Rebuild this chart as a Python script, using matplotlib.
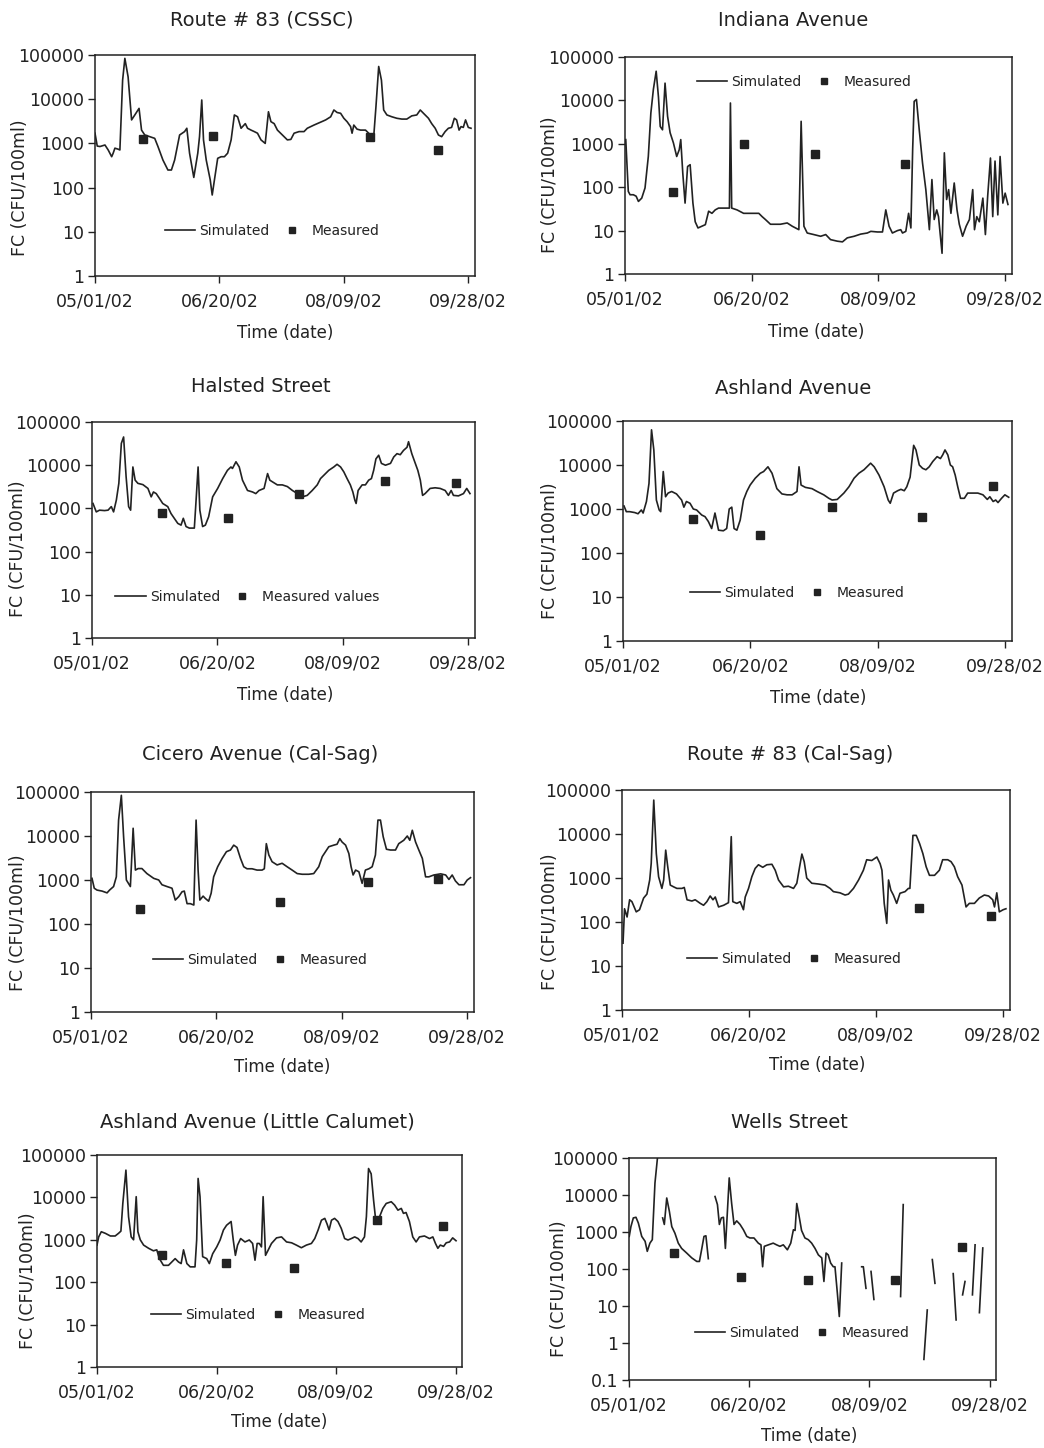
import numpy as np
import matplotlib.pyplot as plt

nan = float('nan')

# x axis: days after 05/01/02
tick_days = [0, 50, 100, 150]
tick_labels = ['05/01/02', '06/20/02', '08/09/02', '09/28/02']

# ---------------- Route # 83 (CSSC) ----------------
cssc_day = [0, 0.9, 2, 4, 5.3, 6.7, 7.3, 8, 9.3, 10,
            11.1, 12, 13.3, 14.7, 16, 17.7, 18.7, 20, 22, 24,
            25.3, 27.3, 29.3, 30.7, 32, 34, 36, 36.9, 38, 39.7,
            41.3, 42, 42.9, 43.6, 44.7, 46.3, 47.1, 48, 49.3, 50.7,
            52, 53.3, 54.7, 56, 57.3, 58.7, 60.4, 61.3, 62.7, 64,
            65.3, 66.7, 68.4, 69.7, 70.7, 72, 73.3, 75.3, 77.3, 78.7,
            80, 82, 84, 85.3, 86.7, 88, 89.3, 91.1, 92.7, 94.7,
            96, 97.3, 98.7, 100, 101.3, 102.7, 103.3, 104, 105.3, 106.7,
            108.7, 110.7, 112, 112.9, 114, 115.1, 116, 117.3, 119.3, 121.3,
            123.3, 125.3, 127.3, 129.3, 130.7, 132, 134, 135.3, 136.7, 138,
            139.3, 140.7, 142, 143.3, 144.4, 145.3, 146.3, 147.1, 148, 148.9,
            150, 151.1]
cssc_fc = [1700, 870, 850, 920, 710, 500, 600, 780, 740, 710,
           27000, 84000, 32000, 3400, 4400, 6200, 2000, 1550, 1420, 1300,
           850, 420, 250, 250, 420, 1550, 1850, 2200, 600, 170,
           600, 1420, 9600, 1200, 420, 150, 68, 150, 460, 500,
           500, 600, 1200, 4400, 4000, 2200, 2800, 2200, 2000, 1850,
           1700, 1200, 1000, 5200, 3100, 2800, 2000, 1550, 1200, 1230,
           1700, 1850, 1850, 2200, 2400, 2600, 2800, 3100, 3400, 4000,
           5700, 5000, 4800, 3700, 3100, 2400, 1700, 2600, 2100, 2000,
           2000, 1550, 1420, 6800, 55000, 27000, 5700, 4400, 4000, 3700,
           3550, 3550, 4200, 4400, 5700, 4800, 3700, 2800, 2200, 1550,
           1420, 1850, 2200, 2300, 3700, 3400, 2000, 2400, 2300, 3400,
           2300, 2200]
cssc_meas_day = [19.1, 47.6, 110.4, 138]
cssc_meas_fc = [1250, 1450, 1380, 700]

# ---------------- Indiana Avenue ----------------
indiana_day = [0.3, 1.3, 2.0, 3.3, 4.4, 5.3, 6.6, 7.9, 9.2, 10.2,
               11.2, 12.3, 13.2, 13.9, 14.8, 15.8, 16.8, 17.8, 19.1, 20.4,
               21.4, 22.0, 22.8, 23.7, 24.7, 25.7, 26.8, 27.7, 28.8, 30.3,
               31.7, 33.0, 34.3, 35.6, 36.9, 40.2, 41.2, 41.6, 42.1, 44.2,
               46.8, 49.5, 52.8, 54.1, 55.4, 57.4, 61.3, 64.0, 66.0, 68.6,
               69.5, 70.6, 71.9, 74.5, 77.2, 79.2, 81.1, 83.8, 85.8, 87.7,
               90.4, 93.0, 95.6, 97.0, 99.6, 101.6, 102.9, 104.2, 105.5, 107.5,
               108.8, 109.5, 110.8, 111.9, 112.8, 113.5, 114.1, 115.0, 116.1, 117.4,
               118.7, 120.1, 121.1, 122.0, 123.0, 123.7, 125.1, 126.0, 126.9, 127.7,
               128.6, 129.9, 131.0, 131.9, 133.2, 134.6, 135.9, 137.2, 137.9, 138.8,
               139.8, 141.2, 142.2, 143.1, 144.2, 145.1, 146.0, 147.1, 148.0, 149.1,
               150.0, 151.1]
indiana_fc = [1250, 80, 67, 67, 62, 47, 56, 96, 510, 5100,
              18000, 47000, 12000, 2500, 2100, 25000, 4300, 1800, 1050, 510,
              730, 1250, 210, 43, 300, 330, 43, 16, 11.5, 12.6,
              13.7, 28, 25, 30, 33, 33, 33, 8700, 33, 30,
              25, 25, 25, 21, 18, 14, 14, 15, 12.6, 10.5,
              3300, 12.6, 8.8, 8.1, 7.4, 8.1, 6.2, 5.7, 5.5, 6.8,
              7.4, 8.3, 8.8, 9.6, 9.3, 9.3, 30, 12.6, 8.8, 10,
              10.5, 8.8, 9.6, 25, 11.5, 730, 9500, 10500, 2100, 360,
              88, 10.5, 150, 18, 30, 21, 3, 620, 52, 88,
              25, 125, 30, 14, 7.4, 12.6, 18, 88, 10.5, 21,
              16, 56, 8.1, 62, 470, 21, 400, 23, 510, 43,
              73, 40]
indiana_meas_day = [18.9, 47.1, 74.8, 110.6]
indiana_meas_fc = [76, 1000, 580, 350]

# ---------------- Halsted Street ----------------
halsted_day = [0.4, 1.7, 3, 5, 6.4, 7.7, 8.6, 9.7, 10.7, 11.7,
               12.6, 13.6, 14.6, 15.4, 16.3, 17.2, 18.3, 20.3, 22.3, 23.6,
               24.5, 25.6, 26.9, 28.2, 30.2, 31.5, 32.8, 34.2, 35.5, 36.4,
               37.5, 38.8, 40.8, 41.5, 42.3, 43, 44.1, 45.2, 46.5, 48.1,
               50.1, 52.1, 54, 55.4, 56, 57.4, 58.7, 60, 62, 64,
               65.3, 66.6, 68.6, 70, 70.9, 72, 73.9, 75.9, 77.9, 79.9,
               81.9, 83.2, 84.5, 85.8, 87.8, 89.8, 91.1, 92.5, 94.4, 96.4,
               97.7, 99.1, 100.4, 101.7, 103, 104, 104.8, 105.3, 106.1, 107.7,
               109, 110.3, 111.4, 112.3, 113.2, 114.3, 115.4, 117, 119, 120.3,
               121.6, 122.9, 124.2, 125.6, 126.2, 127.5, 128.9, 129.9, 130.9, 131.8,
               132.8, 134.8, 136.8, 138.8, 140.8, 142.1, 143.2, 144.1, 146.1, 148.1,
               149.4, 150.7]
halsted_fc = [1300, 830, 910, 890, 910, 1100, 830, 1550, 3800, 32000,
              45000, 5400, 1100, 910, 9100, 4500, 3800, 3550, 2900, 1850,
              2400, 2200, 1700, 1300, 1100, 760, 590, 450, 410, 590,
              380, 350, 350, 1550, 9100, 910, 380, 410, 640, 1850,
              2900, 4900, 7600, 9100, 8400, 12000, 9100, 4500, 2600, 2400,
              2200, 2600, 2900, 6400, 4500, 4100, 3500, 3500, 3200, 2600,
              2200, 2000, 1900, 2000, 2600, 3500, 4900, 5900, 7600, 9100,
              10500, 9100, 7000, 4900, 3500, 2400, 1550, 1300, 2600, 3500,
              3500, 4500, 4900, 7600, 14000, 17000, 11000, 10000, 11000, 15500,
              18500, 17500, 22000, 26000, 35000, 18500, 11000, 7600, 4500, 2000,
              2200, 2900, 3000, 2900, 2600, 2000, 2600, 2000, 1950, 2200,
              2900, 2200]
halsted_meas_day = [27.8, 54.3, 82.5, 117, 145]
halsted_meas_fc = [800, 590, 2100, 4300, 3900]

# ---------------- Ashland Avenue ----------------
ashland_day = [0.4, 1.3, 2.6, 4.6, 5.9, 7.2, 7.9, 9.2, 10.2, 11.2,
               12.1, 13.1, 14.2, 14.8, 15.8, 16.7, 17.7, 19.1, 21, 23,
               23.9, 24.9, 26.3, 27.6, 28.9, 30.9, 32.2, 33.5, 34.8, 36.1,
               37.5, 39.4, 40.7, 41.7, 42.7, 43.6, 44.7, 46, 47.3, 48.6,
               49.9, 51.9, 53.9, 55.2, 56.9, 58.5, 60.4, 62.4, 64.4, 66.4,
               68.3, 69.1, 69.9, 71.6, 74.2, 76.2, 78.8, 80.8, 82.1, 84.1,
               86.7, 88.7, 90.7, 92.6, 94.6, 97.2, 98.6, 100.5, 102.5, 104.1,
               104.9, 106.2, 107.8, 109.1, 110.4, 111.4, 112.7, 114.1, 115, 116.3,
               117.6, 118.9, 120.2, 121.6, 123.3, 124.6, 125.5, 126.4, 127.5, 128.5,
               129.4, 130.4, 131.4, 132.5, 134, 135.3, 137.3, 139.3, 141.3, 143,
               144, 145.3, 146.3, 147.2, 148.6, 149.9, 151.4]
ashland_fc = [1170, 870, 870, 830, 780, 950, 810, 1480, 3800, 63000,
              22000, 1600, 950, 870, 7100, 1900, 2300, 2500, 2200, 1600,
              1100, 1480, 1350, 1000, 950, 730, 670, 520, 360, 810,
              330, 320, 360, 1000, 1100, 360, 330, 560, 1600, 2500,
              3500, 5000, 6500, 7100, 9100, 6500, 2900, 2200, 2100, 2100,
              2500, 9100, 3500, 3100, 2900, 2500, 2100, 1750, 1600, 1650,
              2300, 3200, 5000, 6500, 7800, 11000, 9100, 5900, 3200, 1600,
              1350, 2300, 2600, 2800, 2600, 3200, 5300, 28000, 22000, 10000,
              8400, 7800, 9100, 12000, 15500, 14000, 17000, 22000, 17000, 10000,
              9100, 5900, 3200, 1750, 1750, 2300, 2300, 2300, 2100, 1650,
              1900, 1480, 1600, 1400, 1750, 2100, 1850]
ashland_meas_day = [27.3, 53.9, 82.1, 117.2, 145.2]
ashland_meas_fc = [580, 260, 1120, 650, 3300]

# ---------------- Cicero Avenue (Cal-Sag) ----------------
cicero_day = [0.4, 1.3, 2.4, 4.4, 6.4, 7.4, 9, 10.1, 11, 12.1,
              13, 14.1, 15.7, 16.8, 17.7, 18.8, 20.3, 22.3, 25, 27,
              28.3, 30.3, 32.3, 33.6, 35, 36.3, 37.2, 38.3, 39.6, 41,
              41.9, 42.7, 43.4, 44.7, 45.6, 46.9, 47.9, 48.9, 50.5, 52.3,
              54, 55.6, 56.9, 58.2, 59.6, 60.9, 62.2, 64.2, 66.2, 68.2,
              69.1, 69.9, 70.9, 72.2, 74.2, 76.2, 78.2, 80.2, 82.2, 84.2,
              86.8, 88.8, 90.8, 92.2, 93.5, 94.8, 96.8, 98.1, 99.2, 100.1,
              101.5, 102.8, 103.7, 104.5, 105.5, 106.8, 108.1, 109.4, 110.8, 112.1,
              113.4, 114.4, 115.4, 116.5, 117.8, 119.4, 121.4, 122.7, 124.7, 126.1,
              127.1, 128.1, 129.4, 130.7, 132.1, 133.4, 134.7, 136.7, 139.4, 141.4,
              142.7, 144, 145.3, 146.7, 148.7, 150, 151.3]
cicero_fc = [1090, 650, 590, 560, 510, 590, 710, 1180, 23000, 84000,
             9600, 1000, 710, 15000, 1680, 1820, 1820, 1400, 1090, 1000,
             780, 710, 650, 350, 420, 540, 560, 290, 290, 270,
             23000, 1680, 350, 430, 380, 330, 500, 1180, 2000, 3100,
             4400, 4800, 6200, 5500, 3100, 2000, 1800, 1800, 1680, 1680,
             1800, 6700, 3700, 2600, 2200, 2400, 2000, 1680, 1400, 1350,
             1350, 1400, 2000, 3400, 4400, 5700, 6200, 6500, 8700, 7300,
             6200, 4000, 2000, 1300, 1680, 1540, 840, 1680, 1800, 2000,
             3700, 23000, 23000, 9600, 5000, 4800, 4800, 6700, 8000, 10000,
             8000, 13500, 7300, 4800, 3100, 1180, 1180, 1300, 1380, 1300,
             1030, 1300, 950, 780, 780, 1000, 1130]
cicero_meas_day = [19.7, 75.5, 110.5, 138.4]
cicero_meas_fc = [215, 320, 890, 1030]

# ---------------- Route # 83 (Cal-Sag) ----------------
calsag_day = [0.4, 1, 2, 3, 3.9, 5.6, 6.9, 8.5, 9.8, 10.9,
              11.5, 12.5, 13.5, 14.4, 15.7, 16.4, 17.2, 18, 19, 20.3,
              21.6, 23.6, 24.5, 25.6, 27.5, 28.8, 30.8, 32.1, 33.4, 34.7,
              35.8, 36.7, 38, 40, 41.9, 43, 43.6, 45.2, 46.5, 47.8,
              48.5, 49.8, 51.1, 52.4, 53.7, 55.4, 57, 59, 60.3, 61.6,
              63.6, 65.5, 67.5, 68.8, 69.9, 70.8, 71.7, 72.7, 74.7, 77.3,
              79.9, 81.9, 83.2, 85.8, 87.8, 89.1, 91.1, 93.1, 95, 96.3,
              98.3, 100.3, 101.6, 102.3, 103.2, 104.2, 104.9, 105.8, 106.8, 108.1,
              109.4, 111.4, 112.7, 113.3, 114.5, 115.8, 117.1, 118.4, 119.7, 121,
              123, 124.9, 126.2, 128.2, 129.5, 130.8, 132.1, 133.8, 135.4, 136.7,
              138.7, 140.6, 142.6, 144.3, 145.9, 146.6, 147.5, 148.5, 150, 151.1]
calsag_fc = [33, 200, 130, 320, 290, 170, 190, 350, 430, 900,
             2150, 59000, 3600, 1070, 580, 900, 4300, 1800, 690, 630,
             580, 580, 610, 320, 300, 320, 265, 240, 290, 390,
             320, 370, 220, 240, 275, 8700, 290, 265, 290, 190,
             370, 580, 1070, 1650, 2000, 1750, 2000, 2050, 1500, 900,
             630, 650, 580, 760, 1800, 3500, 2350, 1000, 760, 730,
             690, 580, 490, 460, 410, 430, 580, 900, 1500, 2600,
             2500, 3000, 2100, 1500, 265, 93, 900, 530, 410, 265,
             450, 490, 580, 580, 9300, 9300, 6100, 3600, 1800, 1150,
             1150, 1500, 2600, 2600, 2350, 1800, 1070, 690, 220, 265,
             265, 350, 410, 390, 320, 220, 460, 170, 190, 200]
calsag_meas_day = [117, 145.1]
calsag_meas_fc = [210, 140]

# ---------------- Ashland Avenue (Little Calumet) ----------------
littlecal_day = [0, 0.7, 1.8, 3.5, 5.6, 7.6, 9, 10, 10.8, 12.1,
                 13.2, 14.3, 15.3, 16.4, 17.1, 18.1, 19.5, 21.6, 23.6, 25,
                 26.1, 27.8, 29.9, 31.3, 32.7, 34.1, 35.2, 36.2, 37.6, 39,
                 41, 41.7, 42.3, 43.1, 44.2, 45.9, 47, 48.4, 50.1, 51.5,
                 52.9, 54.2, 56.1, 57, 57.9, 58.8, 60.1, 61.9, 63.7, 65.1,
                 66.1, 67, 67.9, 68.8, 69.5, 70.5, 71.6, 73, 75.1, 77.2,
                 79.3, 81.4, 83.4, 85.5, 87.6, 89.7, 91.1, 92.5, 93.9, 95.3,
                 96.2, 97.1, 98.1, 99.4, 100.8, 102.2, 103.6, 105, 106.4, 107.8,
                 109.2, 110.5, 111.9, 112.7, 113.6, 114.7, 115.7, 116.6, 118.2, 119.6,
                 121, 123.1, 124.5, 125.9, 127.3, 128.2, 129.3, 130.7, 132.1, 133.5,
                 134.9, 137, 139.1, 140.5, 141.6, 142.6, 143.6, 145, 146.1, 147.5,
                 148.8, 150.2]
littlecal_fc = [750, 1170, 1550, 1420, 1230, 1230, 1420, 1600, 7200, 44000,
                3500, 1170, 1000, 10400, 1550, 1000, 750, 630, 550, 580,
                360, 250, 250, 300, 360, 300, 275, 580, 275, 230,
                230, 990, 28000, 10400, 400, 360, 275, 470, 680, 990,
                1700, 2200, 2700, 990, 430, 750, 1070, 890, 990, 820,
                330, 820, 820, 680, 10400, 430, 570, 820, 1110, 1170,
                890, 850, 750, 650, 750, 820, 1070, 1700, 2900, 3200,
                2400, 1700, 2900, 3200, 2700, 1850, 1070, 990, 1070, 1170,
                1070, 890, 1170, 3500, 48000, 36000, 8700, 2900, 3500, 5500,
                7200, 7900, 6600, 5000, 5500, 4200, 4400, 2700, 1170, 890,
                1170, 1230, 1070, 1170, 820, 630, 750, 700, 850, 890,
                1110, 950]
littlecal_meas_day = [27.4, 54, 82.3, 117.2, 144.6]
littlecal_meas_fc = [440, 290, 220, 2900, 2150]

# ---------------- Wells Street (gaps in the simulation) ----------------
wells_day = [0.1, 0.8, 1.8, 2.9, 3.9, 5.3, 6.7, 7.6, 8.7, 9.7, 10.8, 12.3, nan,
             14, 14.7, 15.7, 16.8, 17.8, 19.1, 20.5, 21.9, 24, 26.1, 28.2, 29.3,
             30.2, 31.2, 32, 33, nan,
             35.8, 36.8, 37.6, 38.4, 39.3, 40.1, 40.9, 41.7, 42.7, 43.7, 44.8,
             46.2, 47.6, 49, 50.3, 52, 53.8, 54.9, 55.6, 56.3, 58, 60, 61.4,
             62.8, 64.2, 65.9, 67.3, 68.4, 69.1, 69.8, 70.9, 71.8, 73.2, 74.6,
             76, 77.4, 78.8, 80.2, 81.1, 82, 82.9, 83.9, 85, 85.7, 86.7, 87.5,
             88.5, nan,
             96.8, 97.5, 98.6, nan, 100.7, 101.9, nan, 113, 114.1, nan,
             122.7, 124.1, nan, 126.2, 127.3, nan, 134.9, 136.1, nan,
             138.8, 139.8, nan, 142.9, 144, nan, 145.8, 147.2]
wells_fc = [760, 1400, 2400, 2500, 1740, 760, 560, 300, 500, 620, 21000, 200000, nan,
            2400, 1600, 8300, 3600, 1400, 930, 500, 360, 270, 200, 160, 160,
            330, 760, 790, 190, nan,
            9100, 5500, 1600, 2400, 2500, 360, 3200, 29000, 6000, 1600, 2000,
            1600, 1150, 760, 690, 690, 500, 450, 115, 410, 450, 500, 450,
            410, 450, 330, 500, 1150, 1100, 5900, 2400, 1100, 690, 620,
            500, 360, 240, 200, 46, 270, 240, 145, 115, 115, 22, 5.2,
            145, nan,
            115, 115, 30, nan, 86, 15, nan, 18, 5500, nan,
            0.36, 7.8, nan, 180, 41, nan, 75, 4.2, nan,
            20, 46, nan, 20, 450, nan, 6.6, 370]
wells_meas_day = [18.7, 46.7, 74.5, 110.7, 138.4]
wells_meas_fc = [270, 60, 51, 49, 390]

yticks_main = [1, 10, 100, 1000, 10000, 100000]
yticks_wells = [0.1, 1, 10, 100, 1000, 10000, 100000]

panels = [
    ('Route # 83 (CSSC)', cssc_day, cssc_fc, cssc_meas_day, cssc_meas_fc, 'Measured', yticks_main),
    ('Indiana Avenue', indiana_day, indiana_fc, indiana_meas_day, indiana_meas_fc, 'Measured', yticks_main),
    ('Halsted Street', halsted_day, halsted_fc, halsted_meas_day, halsted_meas_fc, 'Measured values', yticks_main),
    ('Ashland Avenue', ashland_day, ashland_fc, ashland_meas_day, ashland_meas_fc, 'Measured', yticks_main),
    ('Cicero Avenue (Cal-Sag)', cicero_day, cicero_fc, cicero_meas_day, cicero_meas_fc, 'Measured', yticks_main),
    ('Route # 83 (Cal-Sag)', calsag_day, calsag_fc, calsag_meas_day, calsag_meas_fc, 'Measured', yticks_main),
    ('Ashland Avenue (Little Calumet)', littlecal_day, littlecal_fc, littlecal_meas_day, littlecal_meas_fc, 'Measured', yticks_main),
    ('Wells Street', wells_day, wells_fc, wells_meas_day, wells_meas_fc, 'Measured', yticks_wells),
]

# layout in pixels of the 1044 x 1448 page
W, H = 1044, 1448
boxes = [(95, 55, 475, 276), (625, 57, 1012, 274),
         (92, 422, 475, 638), (623, 421, 1012, 641),
         (91, 792, 474, 1012), (622, 790, 1010, 1010),
         (97, 1155, 462, 1367), (629, 1158, 996, 1380)]
title_pos = [(262, 20), (793, 20), (261, 386), (793, 388),
             (260, 755), (790, 755), (257, 1122), (789, 1122)]
xlabel_pos = [(285, 333), (816, 332), (285, 695), (818, 698),
              (282, 1067), (817, 1065), (279, 1422), (809, 1436)]
ylabel_pos = [(20, 188), (550, 185), (18, 549), (550, 551),
              (18, 923), (550, 922), (28, 1281), (559, 1289)]
legend_pos = [(272, 231), (804, 82), (247, 597), (797, 593),
              (260, 960), (794, 959), (258, 1315), (802, 1333)]

ink = '#222222'
plt.rcParams['font.family'] = 'DejaVu Sans'
plt.rcParams['text.color'] = ink

fig = plt.figure(figsize=(W / 100, H / 100), dpi=100)


def fx(x):
    return x / W


def fy(y):
    return 1 - y / H


for i, (title, day, fc, mday, mfc, mlabel, yt) in enumerate(panels):
    l, t, r, b = boxes[i]
    ax = fig.add_axes([fx(l), fy(b), (r - l) / W, (b - t) / H])
    ax.plot(np.array(day, dtype=float), np.array(fc, dtype=float),
            color=ink, lw=1.2, label='Simulated')
    ax.plot(mday, mfc, 's', color=ink, ms=5.8, ls='none', label=mlabel)
    ax.set_yscale('log')
    ax.set_ylim(yt[0], yt[-1])
    ax.set_xlim(0, 152.7)
    ax.set_yticks(yt, labels=[('%g' % v) for v in yt])
    ax.minorticks_off()
    ax.set_xticks(tick_days, labels=tick_labels)
    ax.tick_params(axis='y', direction='out', length=5, width=1,
                   pad=3, labelsize=12.5, colors=ink)
    ax.tick_params(axis='x', direction='out', length=5, width=1,
                   pad=7, labelsize=12.5, colors=ink)
    for sp in ax.spines.values():
        sp.set_linewidth(1.1)
        sp.set_color(ink)

    lx, ly = legend_pos[i]
    ax.legend(loc='center', bbox_to_anchor=(fx(lx), fy(ly)),
              bbox_transform=fig.transFigure, frameon=False, ncol=2,
              fontsize=10, handlelength=2.2, handletextpad=0.3,
              columnspacing=0.5, borderpad=0, markerscale=0.7)

    tx, ty = title_pos[i]
    fig.text(fx(tx), fy(ty), title, ha='center', va='center', fontsize=14)
    x2, y2 = xlabel_pos[i]
    fig.text(fx(x2), fy(y2), 'Time (date)', ha='center', va='center', fontsize=12)
    x3, y3 = ylabel_pos[i]
    fig.text(fx(x3), fy(y3), 'FC (CFU/100ml)', ha='center', va='center',
             rotation=90, fontsize=12.5)

fig.savefig('out.png', dpi=100, facecolor='white')
